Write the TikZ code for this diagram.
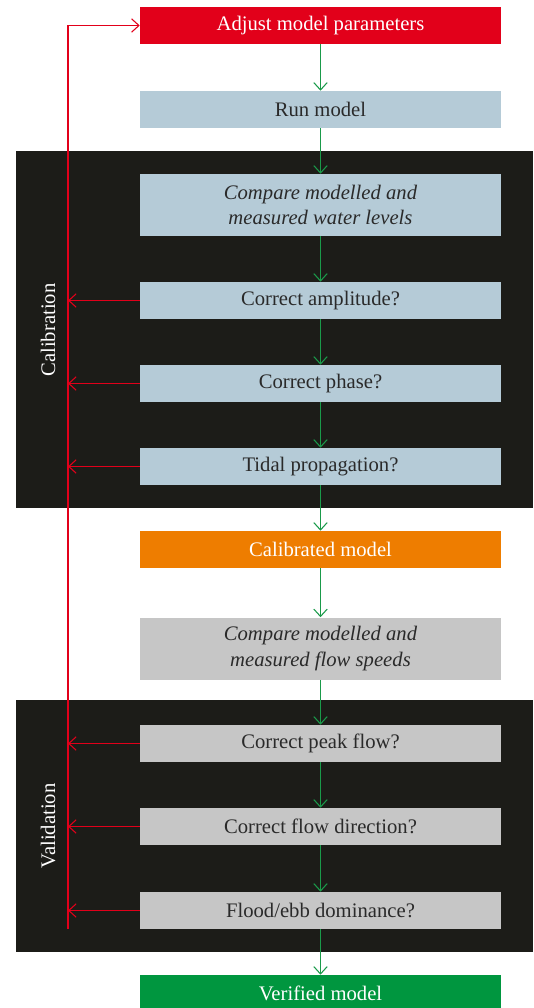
\documentclass[tikz,border=0pt]{standalone}
\usepackage{fontspec}
\setmainfont{Liberation Serif}
\usetikzlibrary{positioning,arrows.meta}
\definecolor{adjred}{HTML}{E2001A}
\definecolor{calblue}{HTML}{B5CBD7}
\definecolor{calorange}{HTML}{EE7D00}
\definecolor{valgray}{HTML}{C6C6C6}
\definecolor{verigreen}{HTML}{00963F}
\definecolor{panel}{HTML}{1C1C18}
\definecolor{boxtext}{HTML}{2A2A2A}
\definecolor{flowgreen}{HTML}{1A9A4A}
\tikzset{box/.style={rectangle,inner sep=0pt,minimum width=270.75pt,minimum height=27.75pt,align=center,text=boxtext,font=\fontsize{15.5}{18}\selectfont},
  tallbox/.style={box,minimum height=46.5pt,font=\fontsize{15.5}{19}\selectfont\itshape},
  panelbox/.style={rectangle,inner sep=0pt,fill=panel,minimum width=387.75pt},
  flow/.style={draw=flowgreen,line width=0.8pt,-{Straight Barb[length=5.5pt,width=10pt]}},
  back/.style={draw=adjred,line width=0.8pt,-{Straight Barb[length=5.5pt,width=10pt]}}}

\begin{document}
\begin{tikzpicture}[x=0.75pt,y=-0.75pt]
\useasboundingbox (0,0) rectangle (533,1008);

\node[panelbox,minimum height=267.75pt] (calpanel) at (274.5,329.5) {};
\node[panelbox,minimum height=189pt] (valpanel) at (274.5,826) {};
\node[rotate=90,text=white,font=\fontsize{15.5}{18}\selectfont] (callabel) at (48,330) {Calibration};
\node[rotate=90,text=white,font=\fontsize{15.5}{18}\selectfont] (vallabel) at (48,826) {Validation};

\node[box,fill=adjred,text=white] (adjust) at (320.5,25.5) {Adjust model parameters};
\node[box,fill=calblue] (run) at (320.5,109.5) {Run model};
\node[tallbox,fill=calblue] (cmpwater) at (320.5,205) {Compare modelled and\\measured water levels};
\node[box,fill=calblue] (amp) at (320.5,300.5) {Correct amplitude?};
\node[box,fill=calblue] (phase) at (320.5,383.5) {Correct phase?};
\node[box,fill=calblue] (tidal) at (320.5,466.5) {Tidal propagation?};
\node[box,fill=calorange,text=white] (calib) at (320.5,549.5) {Calibrated model};
\node[tallbox,fill=valgray] (cmpflow) at (320.5,648.5) {Compare modelled and\\measured flow speeds};
\node[box,fill=valgray] (peak) at (320.5,743.5) {Correct peak flow?};
\node[box,fill=valgray] (dir) at (320.5,826.5) {Correct flow direction?};
\node[box,fill=valgray] (flood) at (320.5,910.5) {Flood/ebb dominance?};
\node[box,fill=verigreen,text=white] (verified) at (320.5,993.5) {Verified model};

% main flow
\draw[flow] (adjust) -- (run);
\draw[flow] (run) -- (cmpwater);
\draw[flow] (cmpwater) -- (amp);
\draw[flow] (amp) -- (phase);
\draw[flow] (phase) -- (tidal);
\draw[flow] (tidal) -- (calib);
\draw[flow] (calib) -- (cmpflow);
\draw[flow] (cmpflow) -- (peak);
\draw[flow] (peak) -- (dir);
\draw[flow] (dir) -- (flood);
\draw[flow] (flood) -- (verified);

% feedback loop
\coordinate (rtop) at (68,25.5);
\coordinate (rbot) at (68,929);
\draw[back] (rbot) -- (rtop) -- (adjust);
\foreach \n in {amp,phase,tidal,peak,dir,flood}
  \draw[back] (\n) -- (\n -| rbot);
\end{tikzpicture}
\end{document}
